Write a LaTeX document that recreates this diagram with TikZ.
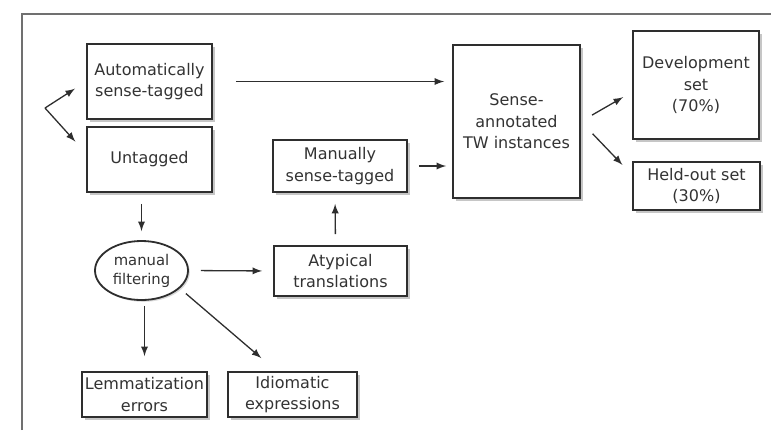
\documentclass[tikz,border=0pt]{standalone}
\usepackage{fontspec}
\setmainfont{DejaVu Sans}
\usepackage{tikz}
\usetikzlibrary{shapes.geometric, arrows, shadows}

\definecolor{boxline}{HTML}{2E2E2E}
\definecolor{boxtext}{HTML}{333333}
\definecolor{frameline}{HTML}{707070}

\begin{document}
\begin{tikzpicture}[
                x=0.5pt, y=-0.5pt, % one unit is one pixel of the reference
                every node/.style={font=\fontsize{8}{10.7}\selectfont, text=boxtext, align=center, inner sep=0pt},
                box/.style={rectangle, draw=boxline, line width=0.9pt, fill=white,
                    drop shadow={shadow xshift=1.3pt, shadow yshift=-1.3pt, opacity=0.45}}, % Boxes with a shadow
                oval/.style={ellipse, draw=boxline, line width=0.9pt, fill=white,
                    drop shadow={shadow xshift=0.9pt, shadow yshift=-0.9pt, opacity=0.3}},
                arr/.style={-latex, draw=boxline, line width=0.65pt} % Arrows
                ]
                \useasboundingbox (0,0) rectangle (771,430);
                % frame
                \draw[frameline, line width=0.9pt] (22,430) -- (22,14) -- (771,14);

                \node[box, minimum width=62.5pt, minimum height=37.5pt] (auto) at (149.5,81.5) {Automatically\\sense-tagged};
                \node[box, minimum width=62.5pt, minimum height=32.5pt] (untagged) at (149.5,159.5) {Untagged};
                \node[oval, minimum width=46.5pt, minimum height=29.5pt, font=\fontsize{7.4}{9.5}\selectfont] (filter) at (141.5,270.5) {manual\\filtering};
                \node[box, minimum width=67pt, minimum height=26pt] (manual) at (340,166) {Manually\\sense-tagged};
                \node[box, minimum width=66.5pt, minimum height=25pt] (atypical) at (340.5,271) {Atypical\\translations};
                \node[box, minimum width=62.5pt, minimum height=22.5pt] (lemma) at (144.5,394.5) {Lemmatization\\errors};
                \node[box, minimum width=64.5pt, minimum height=22.5pt] (idiom) at (292.5,394.5) {Idiomatic\\expressions};
                \node[box, minimum width=63.5pt, minimum height=76.5pt] (annotated) at (516.5,121.5) {Sense-\\annotated\\TW instances};
                \node[box, minimum width=63pt, minimum height=54pt] (devset) at (696,85) {Development\\set\\(70\%)};
                \node[box, minimum width=63.5pt, minimum height=24pt] (heldout) at (696.5,186) {Held-out set\\(30\%)};

                \coordinate (split) at (45,108);
                \draw[arr, shorten >=6.6pt] (split) -- (auto.west);
                \draw[arr, shorten >=8pt] (split) -- ([yshift=3pt]untagged.west);
                \draw[arr, shorten <=11.5pt, shorten >=4pt] (auto.east) -- (auto.east -| annotated.west);
                \draw[arr, shorten <=5.5pt, shorten >=4.5pt] (filter.north |- untagged.south) -- (filter.north);
                \draw[arr, shorten <=6pt, shorten >=5.5pt] (filter.east) -- (atypical.west);
                \draw[arr, shorten <=5.5pt, shorten >=5.5pt] ([xshift=-2.5pt]atypical.north) -- ([xshift=-2.5pt]manual.south);
                \draw[arr, shorten <=5.5pt, shorten >=3pt] (manual.east) -- (manual.east -| annotated.west);
                \draw[arr, shorten <=2.5pt, shorten >=7.5pt] (filter.south -| lemma.north) -- (lemma.north);
                \draw[arr, shorten <=4pt, shorten >=10pt] (filter.-25) -- ([xshift=-8pt]idiom.north);
                \draw[arr, shorten <=6.4pt, shorten >=5.2pt] (annotated.east) -- ([yshift=-3.5pt]devset.west);
                \draw[arr, shorten <=8.5pt, shorten >=7pt] (annotated.east) -- ([yshift=5.5pt]heldout.west);
            \end{tikzpicture}
\end{document}
